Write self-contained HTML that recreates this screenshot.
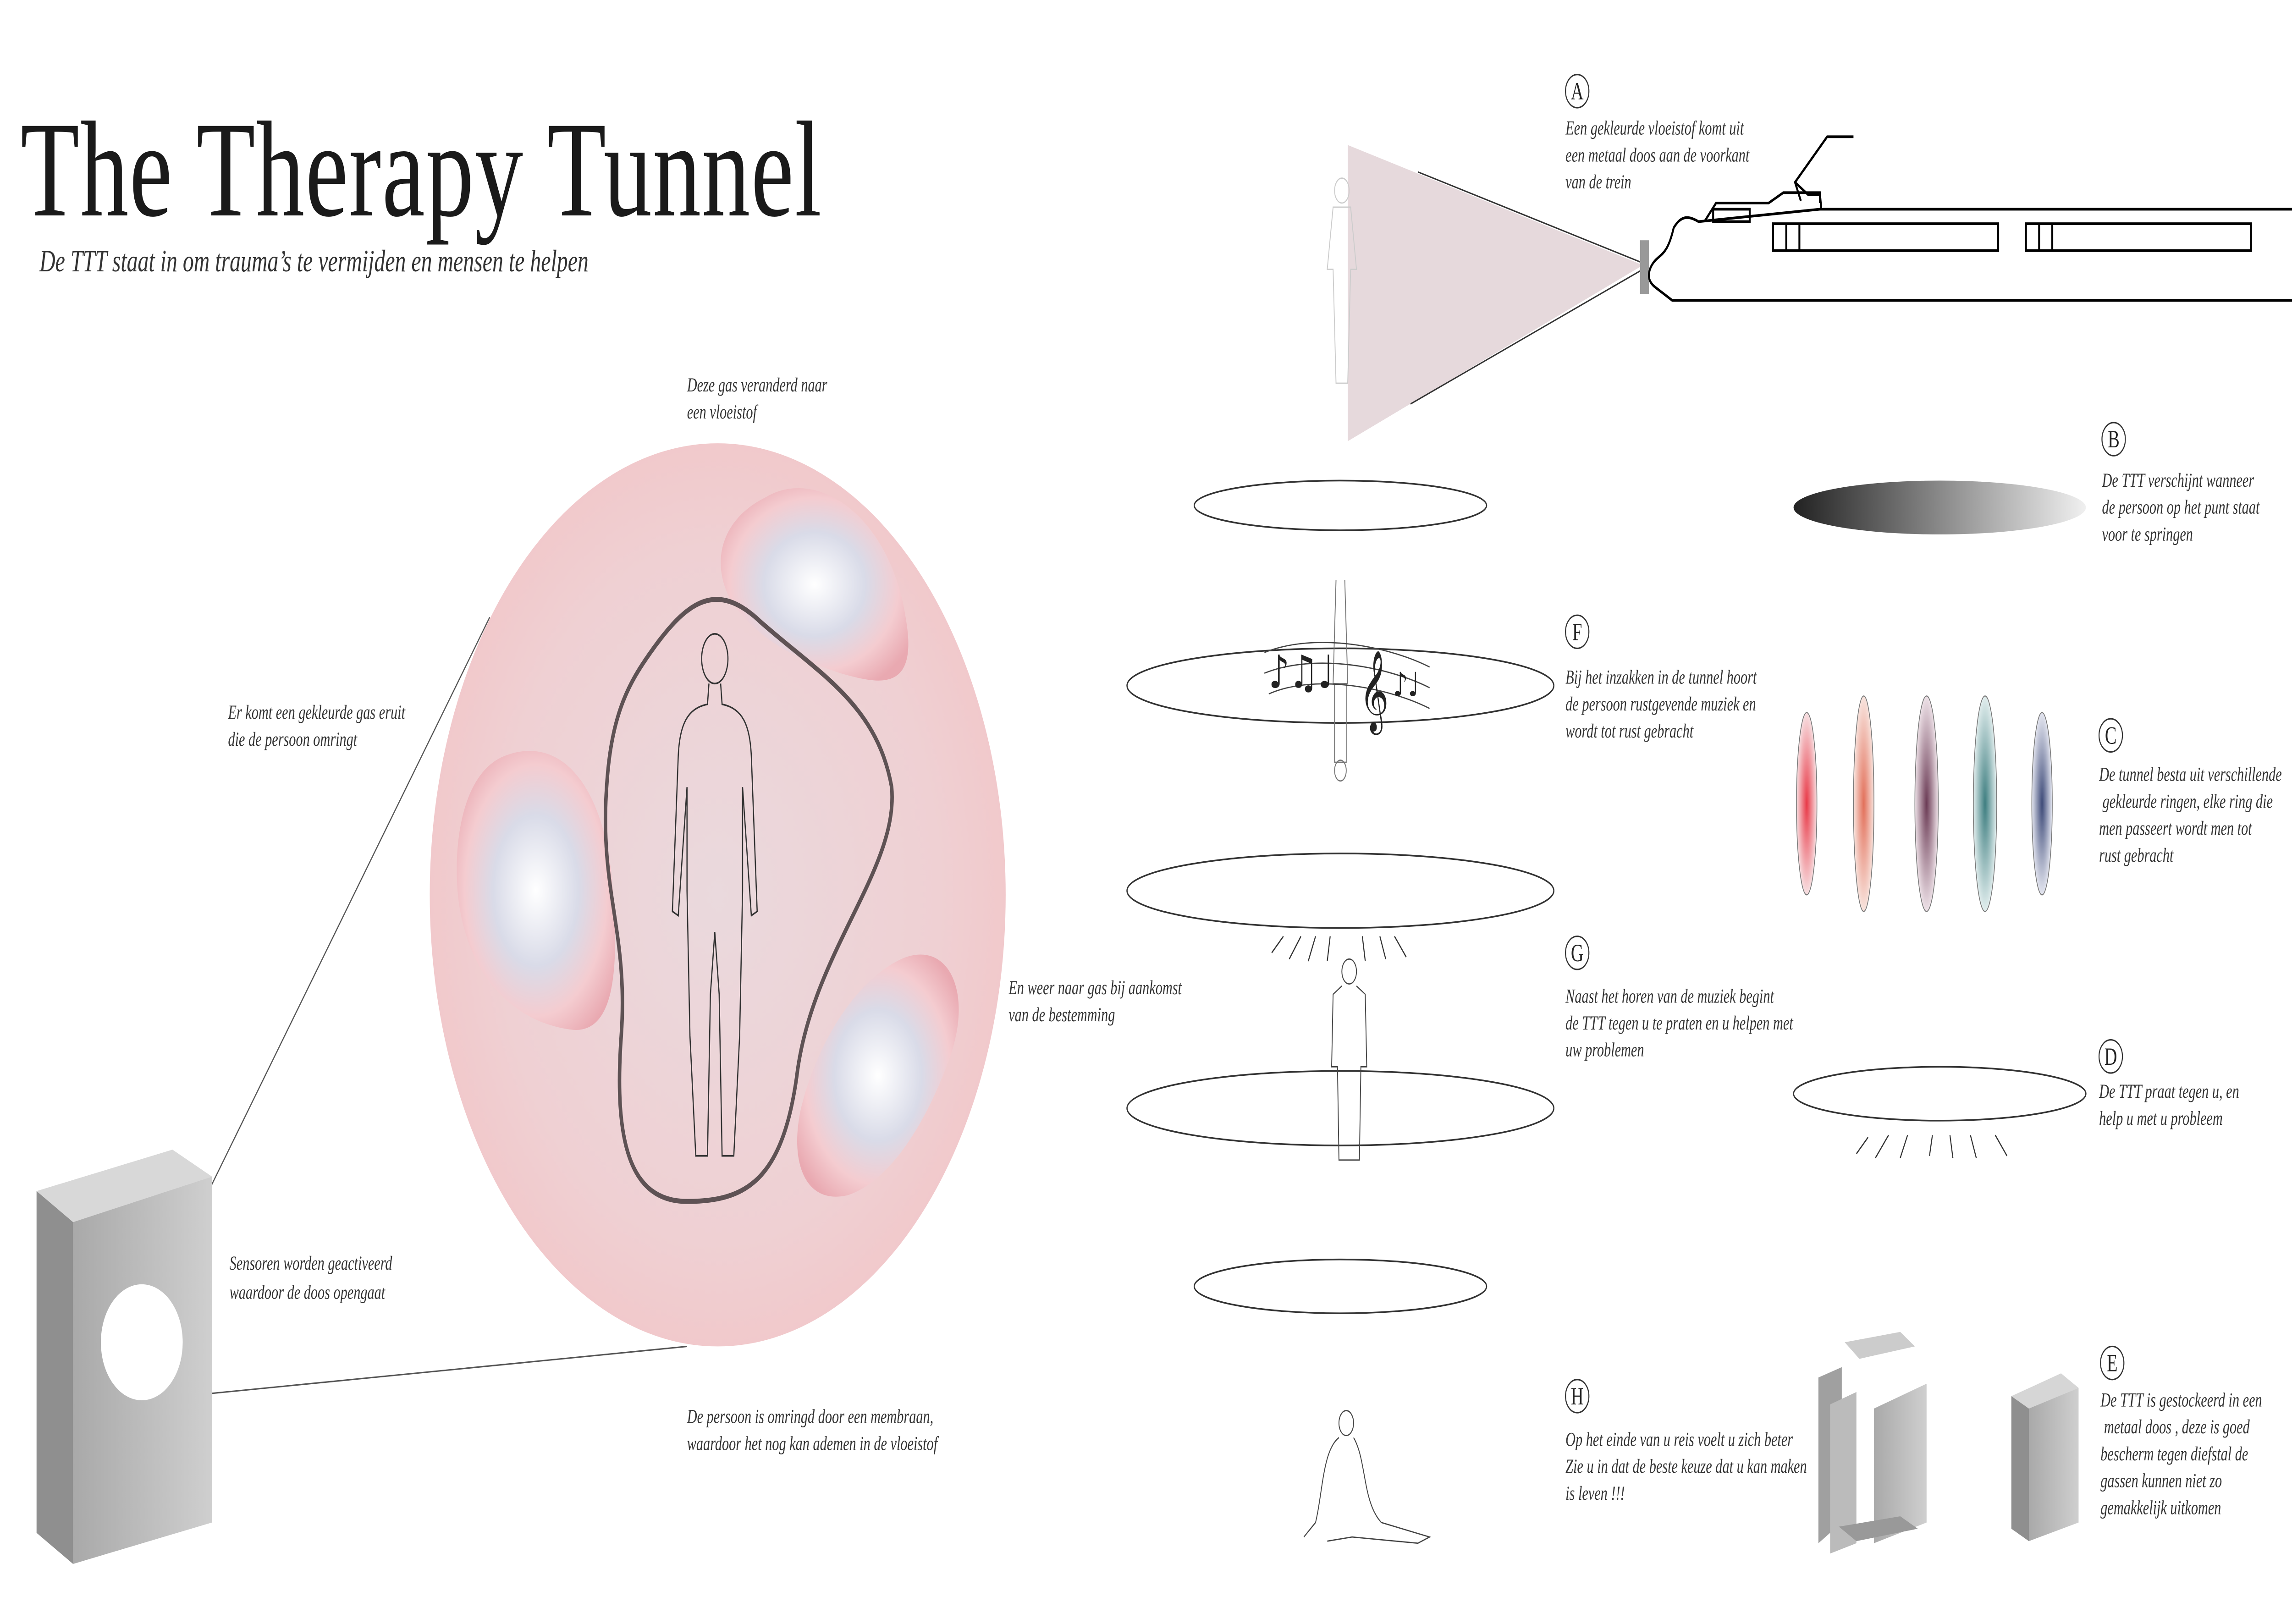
<!DOCTYPE html>
<html><head><meta charset="utf-8">
<style>
html,body{margin:0;padding:0;background:#fff;width:100%;height:100%;overflow:hidden;}
svg{display:block;position:fixed;left:0;top:0;width:100vw;height:100vh;}
.t{font-family:"Liberation Serif",serif;font-style:italic;fill:#333;font-size:9.5px;}
.L{font-family:"Liberation Serif",serif;fill:#222;font-size:12px;}
</style></head>
<body>
<svg viewBox="0 0 1568 784" preserveAspectRatio="none" xmlns="http://www.w3.org/2000/svg">
<defs>
<radialGradient id="pinkBall" cx="50%" cy="50%" r="55%">
<stop offset="0" stop-color="#ead9dd"/><stop offset="0.7" stop-color="#efd0d3"/><stop offset="1" stop-color="#f2c6c8"/>
</radialGradient>
<radialGradient id="bub" cx="50%" cy="50%" r="60%">
<stop offset="0" stop-color="#ffffff"/><stop offset="0.45" stop-color="#d9dbe8"/><stop offset="0.75" stop-color="#f4ccd0"/><stop offset="1" stop-color="#e9a9b1"/>
</radialGradient>
<linearGradient id="dark" x1="0" x2="1"><stop offset="0" stop-color="#222"/><stop offset="1" stop-color="#f0f0f0"/></linearGradient>
<linearGradient id="box" x1="0" x2="1"><stop offset="0" stop-color="#a9a9a9"/><stop offset="1" stop-color="#cfcfcf"/></linearGradient>
<radialGradient id="r1"><stop offset="0" stop-color="#e83a48"/><stop offset="1" stop-color="#f7e0e2"/></radialGradient>
<radialGradient id="r2"><stop offset="0" stop-color="#e2705a"/><stop offset="1" stop-color="#f8e4de"/></radialGradient>
<radialGradient id="r3"><stop offset="0" stop-color="#6b3b55"/><stop offset="1" stop-color="#eee2e8"/></radialGradient>
<radialGradient id="r4"><stop offset="0" stop-color="#3e7e80"/><stop offset="1" stop-color="#e2eeee"/></radialGradient>
<radialGradient id="r5"><stop offset="0" stop-color="#3d4a78"/><stop offset="1" stop-color="#e4e6f0"/></radialGradient>
</defs>

<text x="14" y="104" font-family="Liberation Serif,serif" font-size="66" textLength="548" fill="#1a1a1a">The Therapy Tunnel</text>
<text x="27" y="131" class="t" style="font-size:15px">De TTT staat in om trauma’s te vermijden en mensen te helpen</text>

<line x1="108" y1="625" x2="335" y2="298" stroke="#555" stroke-width="0.7"/>
<line x1="97" y1="676" x2="470" y2="650" stroke="#555" stroke-width="0.7"/>

<ellipse cx="491" cy="432" rx="197" ry="218" fill="url(#pinkBall)"/>
<path d="M524 240 C560 225 610 250 620 300 C628 335 600 330 575 325 C545 318 520 310 500 290 C485 270 495 250 524 240Z" fill="url(#bub)"/>
<path d="M345 365 C380 355 410 375 418 420 C425 470 420 500 390 497 C350 493 318 470 313 430 C310 400 320 372 345 365Z" fill="url(#bub)"/>
<path d="M620 462 C650 455 665 480 650 510 C635 540 610 570 580 577 C550 582 540 560 548 535 C560 500 590 470 620 462Z" fill="url(#bub)"/>
<path d="M445 315 C470 290 490 280 520 300 C560 325 600 340 610 380 C615 420 555 460 545 520 C535 570 510 580 470 580 C430 580 420 550 425 500 C430 450 410 430 415 380 C418 345 430 330 445 315Z" fill="none" stroke="#5e5254" stroke-width="2.4"/>
<g fill="none" stroke="#333" stroke-width="0.8">
<ellipse cx="489" cy="318" rx="9" ry="12"/>
<path d="M485 330 L484 340 C470 342 465 350 464 365 L460 440 L464 442 L470 380 L470 430 L472 500 L476 558 L484 558 L486 480 L489 450 L492 480 L494 558 L502 558 L506 500 L508 430 L508 380 L514 442 L518 440 L514 365 C513 350 508 342 494 340 L493 330"/>
</g>

<text class="t"><tspan x="470" y="189">Deze gas veranderd naar</tspan><tspan x="470" y="202">een vloeistof</tspan></text>
<text class="t"><tspan x="156" y="347">Er komt een gekleurde gas eruit</tspan><tspan x="156" y="360">die de persoon omringt</tspan></text>
<text class="t"><tspan x="157" y="613">Sensoren worden geactiveerd</tspan><tspan x="157" y="627">waardoor de doos opengaat</tspan></text>
<text class="t"><tspan x="470" y="687">De persoon is omringd door een membraan,</tspan><tspan x="470" y="700">waardoor het nog kan ademen in de vloeistof</tspan></text>
<text class="t"><tspan x="690" y="480">En weer naar gas bij aankomst</tspan><tspan x="690" y="493">van de bestemming</tspan></text>

<g>
<polygon points="25,575 118,555 145,568 50,590" fill="#d8d8d8"/>
<polygon points="25,575 50,590 50,755 25,740" fill="#8f8f8f"/>
<polygon points="50,590 145,568 145,735 50,755" fill="url(#box)"/>
<circle cx="97" cy="648" r="28" fill="#fff"/>
</g>

<polygon points="922,70 1124,128 922,213" fill="#e6d9dc"/>
<line x1="970" y1="83" x2="1124" y2="127" stroke="#333" stroke-width="0.7"/>
<line x1="965" y1="195" x2="1124" y2="130" stroke="#333" stroke-width="0.7"/>
<g fill="none" stroke="#ccc" stroke-width="0.6">
<ellipse cx="918" cy="92" rx="5" ry="6"/><path d="M912 100 L908 130 L912 130 L914 185 L922 185 L924 130 L928 130 L924 100Z"/>
</g>
<rect x="1122" y="116" width="6" height="26" fill="#999"/>
<g fill="none" stroke="#000" stroke-width="1.3">
<path d="M1568 101 L1245 101 L1162 107 C1155 104 1150 104 1145 110 C1140 125 1135 122 1130 128 C1127 132 1127 136 1133 139 L1144 145 L1568 145"/>
<path d="M1166 107 L1174 98 L1210 98 L1220 93 L1245 93 L1246 101"/>
<path d="M1232 97 L1228 88 L1250 66 L1268 66 M1228 88 L1237 94 L1245 94 L1245 98"/>
<rect x="1172" y="101" width="25" height="6"/>
<rect x="1213" y="108" width="154" height="13"/><line x1="1222" y1="108" x2="1222" y2="121"/><line x1="1231" y1="108" x2="1231" y2="121"/>
<rect x="1386" y="108" width="154" height="13"/><line x1="1395" y1="108" x2="1395" y2="121"/><line x1="1404" y1="108" x2="1404" y2="121"/>
</g>

<g fill="#fff" stroke="#333" stroke-width="0.8">
<ellipse cx="917" cy="244" rx="100" ry="12"/>
<ellipse cx="917" cy="331" rx="146" ry="18"/>
<ellipse cx="917" cy="430" rx="146" ry="18"/>
<ellipse cx="917" cy="535" rx="146" ry="18"/>
<ellipse cx="917" cy="621" rx="100" ry="13"/>
</g>
<g fill="none" stroke="#777" stroke-width="0.6">
<path d="M914 280 L912 330 L922 330 L920 280 M913 330 L913 368 L921 368 L921 330"/><ellipse cx="917" cy="372" rx="4" ry="5"/>
</g>
<g font-size="22" fill="#222" font-family="DejaVu Sans,sans-serif">
<path d="M865 315 C900 305 950 312 978 322 M865 325 C900 315 950 322 978 332 M868 335 C900 325 950 332 978 342" stroke="#444" stroke-width="0.6" fill="none"/>
<text x="868" y="332">♪♫♩</text><text x="930" y="345" font-size="34">𝄞</text><text x="953" y="336" font-size="16">♪♩</text>
</g>
<g stroke="#333" stroke-width="0.7">
<line x1="870" y1="460" x2="878" y2="452"/><line x1="882" y1="463" x2="890" y2="452"/><line x1="895" y1="464" x2="900" y2="452"/><line x1="908" y1="464" x2="910" y2="452"/><line x1="934" y1="464" x2="932" y2="452"/><line x1="948" y1="463" x2="944" y2="452"/><line x1="962" y1="462" x2="954" y2="452"/>
</g>
<g fill="none" stroke="#444" stroke-width="0.6">
<ellipse cx="923" cy="469" rx="5" ry="6"/><path d="M918 476 L912 480 L911 515 L915 515 L916 560 L930 560 L931 515 L935 515 L934 480 L928 476"/>
</g>
<g fill="none" stroke="#444" stroke-width="0.6">
<ellipse cx="921" cy="687" rx="5" ry="6"/><path d="M916 694 C905 700 905 720 900 735 L892 742 M926 694 C935 705 932 725 945 735 L978 742 L970 745 L925 742 L908 744"/>
</g>

<g><circle cx="1079" cy="44" r="8" fill="none" stroke="#333" stroke-width="0.7"/><text x="1079" y="48" text-anchor="middle" class="L">A</text></g>
<text class="t"><tspan x="1071" y="65">Een gekleurde vloeistof komt uit</tspan><tspan x="1071" y="78">een metaal doos aan de voorkant</tspan><tspan x="1071" y="91">van de trein</tspan></text>
<g><circle cx="1079" cy="305" r="8" fill="none" stroke="#333" stroke-width="0.7"/><text x="1079" y="309" text-anchor="middle" class="L">F</text></g>
<text class="t"><tspan x="1071" y="330">Bij het inzakken in de tunnel hoort</tspan><tspan x="1071" y="343">de persoon rustgevende muziek en</tspan><tspan x="1071" y="356">wordt tot rust gebracht</tspan></text>
<g><circle cx="1079" cy="460" r="8" fill="none" stroke="#333" stroke-width="0.7"/><text x="1079" y="464" text-anchor="middle" class="L">G</text></g>
<text class="t"><tspan x="1071" y="484">Naast het horen van de muziek begint</tspan><tspan x="1071" y="497">de TTT tegen u te praten en u helpen met</tspan><tspan x="1071" y="510">uw problemen</tspan></text>
<g><circle cx="1079" cy="674" r="8" fill="none" stroke="#333" stroke-width="0.7"/><text x="1079" y="678" text-anchor="middle" class="L">H</text></g>
<text class="t"><tspan x="1071" y="698">Op het einde van u reis voelt u zich beter</tspan><tspan x="1071" y="711">Zie u in dat de beste keuze dat u kan maken</tspan><tspan x="1071" y="724">is leven !!!</tspan></text>

<ellipse cx="1327" cy="245" rx="100" ry="13" fill="url(#dark)"/>
<g><circle cx="1446" cy="212" r="8" fill="none" stroke="#333" stroke-width="0.7"/><text x="1446" y="216" text-anchor="middle" class="L">B</text></g>
<text class="t"><tspan x="1438" y="235">De TTT  verschijnt wanneer</tspan><tspan x="1438" y="248">de persoon op het punt staat</tspan><tspan x="1438" y="261">voor te springen</tspan></text>
<g stroke="#777" stroke-width="0.5">
<ellipse cx="1236" cy="388" rx="7" ry="44" fill="url(#r1)"/>
<ellipse cx="1275" cy="388" rx="7" ry="52" fill="url(#r2)"/>
<ellipse cx="1318" cy="388" rx="8" ry="52" fill="url(#r3)"/>
<ellipse cx="1358" cy="388" rx="8" ry="52" fill="url(#r4)"/>
<ellipse cx="1397" cy="388" rx="7" ry="44" fill="url(#r5)"/>
</g>
<g><circle cx="1444" cy="355" r="8" fill="none" stroke="#333" stroke-width="0.7"/><text x="1444" y="359" text-anchor="middle" class="L">C</text></g>
<text class="t"><tspan x="1436" y="377">De tunnel besta uit verschillende</tspan><tspan x="1436" y="390"> gekleurde ringen, elke ring die</tspan><tspan x="1436" y="403">men passeert wordt men tot</tspan><tspan x="1436" y="416">rust gebracht</tspan></text>
<ellipse cx="1327" cy="528" rx="100" ry="13" fill="#fff" stroke="#333" stroke-width="0.8"/>
<g stroke="#333" stroke-width="0.7">
<line x1="1270" y1="557" x2="1278" y2="549"/><line x1="1283" y1="559" x2="1292" y2="548"/><line x1="1300" y1="559" x2="1305" y2="548"/><line x1="1320" y1="558" x2="1322" y2="548"/><line x1="1336" y1="559" x2="1334" y2="548"/><line x1="1352" y1="559" x2="1348" y2="548"/><line x1="1373" y1="558" x2="1365" y2="548"/>
</g>
<g><circle cx="1444" cy="510" r="8" fill="none" stroke="#333" stroke-width="0.7"/><text x="1444" y="514" text-anchor="middle" class="L">D</text></g>
<text class="t"><tspan x="1436" y="530">De TTT praat tegen u, en</tspan><tspan x="1436" y="543">help u met u probleem</tspan></text>

<g>
<polygon points="1244,665 1260,660 1260,735 1244,745" fill="#a0a0a0"/>
<polygon points="1252,678 1270,672 1270,745 1252,750" fill="#bbb"/>
<polygon points="1282,680 1318,668 1318,735 1282,745" fill="url(#box)"/>
<polygon points="1262,648 1300,643 1310,650 1272,656" fill="#ccc"/>
<polygon points="1258,737 1300,732 1312,738 1270,744" fill="#999"/>
</g>
<g>
<polygon points="1376,674 1410,663 1422,670 1388,680" fill="#d6d6d6"/>
<polygon points="1376,674 1388,680 1388,744 1376,738" fill="#8f8f8f"/>
<polygon points="1388,680 1422,670 1422,735 1388,744" fill="url(#box)"/>
</g>
<g><circle cx="1445" cy="658" r="8" fill="none" stroke="#333" stroke-width="0.7"/><text x="1445" y="662" text-anchor="middle" class="L">E</text></g>
<text class="t"><tspan x="1437" y="679">De TTT is gestockeerd in een</tspan><tspan x="1437" y="692"> metaal doos , deze is goed</tspan><tspan x="1437" y="705">bescherm tegen diefstal de</tspan><tspan x="1437" y="718">gassen kunnen niet zo</tspan><tspan x="1437" y="731">gemakkelijk uitkomen</tspan></text>
</svg>
</body></html>
